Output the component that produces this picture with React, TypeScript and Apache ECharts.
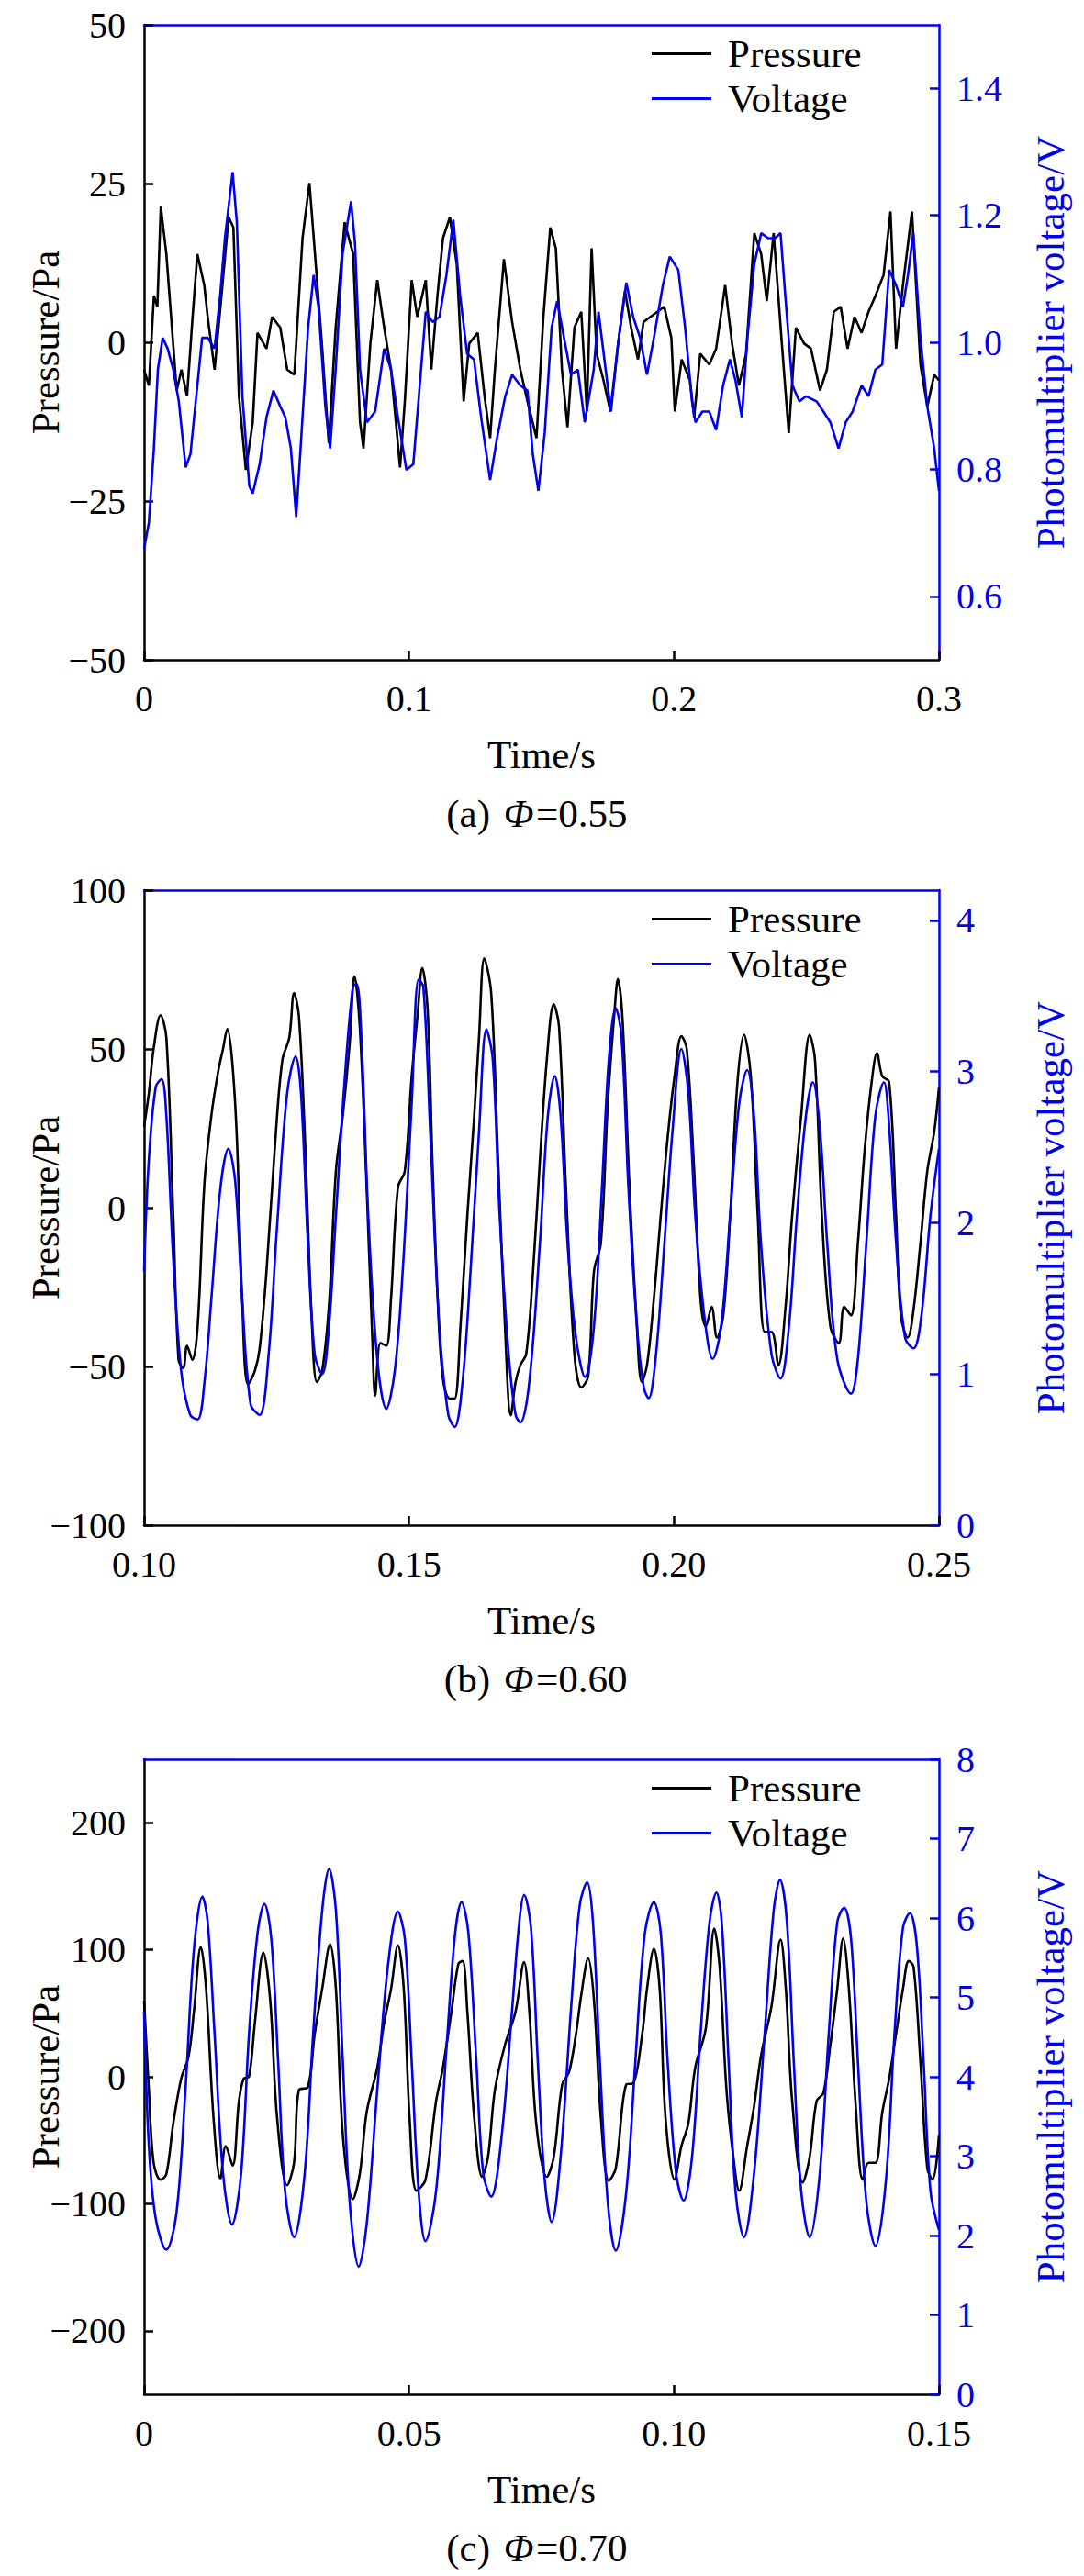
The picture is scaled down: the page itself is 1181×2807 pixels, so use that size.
import { useEffect, useRef } from "react";
import * as echarts from "echarts";

const FONT = '"Liberation Serif", "Times New Roman", serif';
const BLUE = "#0000f0";

// (a) Φ=0.55  [time s, value]
const pressureA: [number, number][] = [
  [0, -4.3], [0.0018, -6.8], [0.0037, 7.3], [0.005, 5.6], [0.0063, 21.4], [0.0084, 13.9],
  [0.0102, 4.0], [0.0123, -7.6], [0.0141, -4.3], [0.0162, -8.5], [0.0183, 4.0], [0.0201, 13.9],
  [0.0227, 9.0], [0.024, 4.0], [0.0266, -4.3], [0.0292, 7.3], [0.0319, 19.7], [0.0337, 18.1],
  [0.0358, -8.5], [0.0384, -20.1], [0.041, -12.6], [0.0428, 1.5], [0.0462, -1.0], [0.0483, 4.0],
  [0.0514, 2.3], [0.054, -4.3], [0.0567, -5.1], [0.0598, 16.4], [0.0624, 25.1], [0.0645, 13.9],
  [0.0671, -0.2], [0.0697, -15.9], [0.0723, 2.3], [0.0757, 18.9], [0.0789, 13.9], [0.0815, -12.6],
  [0.0828, -16.7], [0.0854, -0.2], [0.088, 9.8], [0.0906, 2.3], [0.0932, -4.3], [0.0966, -19.7],
  [0.0984, -9.3], [0.101, 9.8], [0.1031, 4.0], [0.1063, 9.8], [0.1084, -4.3], [0.1107, 7.3],
  [0.1128, 16.4], [0.1154, 19.7], [0.118, 12.3], [0.1206, -9.3], [0.1227, -0.2], [0.1259, 1.5],
  [0.1285, -8.5], [0.1306, -15.1], [0.1324, -4.3], [0.1358, 13.1], [0.1389, 3.2], [0.142, -4.3],
  [0.1447, -9.3], [0.1481, -15.1], [0.1507, 4.0], [0.1533, 18.1], [0.1554, 14.8], [0.1577, -4.3],
  [0.1598, -13.4], [0.1624, 2.3], [0.165, 4.8], [0.1671, -10.9], [0.1689, 14.8], [0.1708, -1.8],
  [0.1734, -6.0], [0.176, -10.9], [0.1789, -0.2], [0.1815, 8.1], [0.1838, 2.3], [0.1864, -2.7],
  [0.1885, 3.2], [0.1911, 4.0], [0.1937, 4.8], [0.1963, 5.6], [0.199, 0.7], [0.2003, -10.9],
  [0.2029, -2.7], [0.206, -6.0], [0.2076, -11.8], [0.2099, -1.8], [0.2133, -3.5], [0.2159, -1.0],
  [0.2193, 9.0], [0.2219, -0.2], [0.2245, -6.8], [0.2272, -1.8], [0.2303, 17.2], [0.2329, 13.9],
  [0.235, 6.5], [0.2376, 17.2], [0.2407, -0.2], [0.2433, -14.3], [0.246, 2.3], [0.2491, -0.2],
  [0.2517, -1.0], [0.2551, -7.6], [0.2577, -4.3], [0.2603, 4.8], [0.2629, 5.6], [0.2655, -1.0],
  [0.2681, 4.0], [0.2708, 1.5], [0.2734, 4.8], [0.276, 7.3], [0.2791, 10.6], [0.2817, 20.6],
  [0.2838, -1.0], [0.2864, 9.0], [0.2898, 20.6], [0.293, -3.5], [0.2956, -10.1], [0.2982, -5.1],
  [0.3, -6.0],
];
const voltageA: [number, number][] = [
  [0, 0.675], [0.0018, 0.716], [0.0037, 0.833], [0.0052, 0.957], [0.007, 1.007], [0.0089, 0.99],
  [0.011, 0.957], [0.0131, 0.907], [0.0157, 0.803], [0.0175, 0.824], [0.0193, 0.899], [0.0219, 1.007],
  [0.024, 1.007], [0.0266, 0.99], [0.0287, 1.073], [0.0305, 1.164], [0.0334, 1.268], [0.035, 1.189],
  [0.0371, 0.915], [0.0397, 0.774], [0.041, 0.762], [0.0436, 0.808], [0.0462, 0.882], [0.0488, 0.924],
  [0.0514, 0.899], [0.0533, 0.882], [0.0554, 0.833], [0.0574, 0.725], [0.0593, 0.849], [0.0619, 1.023],
  [0.064, 1.106], [0.0658, 1.056], [0.0684, 0.899], [0.0702, 0.833], [0.0723, 0.957], [0.0749, 1.139],
  [0.0781, 1.222], [0.0796, 1.156], [0.0815, 0.957], [0.0841, 0.874], [0.0872, 0.891], [0.0906, 0.99],
  [0.0932, 0.957], [0.0958, 0.882], [0.099, 0.799], [0.1016, 0.808], [0.1037, 0.915], [0.1063, 1.048],
  [0.1089, 1.032], [0.1115, 1.04], [0.1141, 1.106], [0.1167, 1.193], [0.1193, 1.073], [0.1219, 0.982],
  [0.1245, 0.973], [0.1272, 0.882], [0.1306, 0.783], [0.1332, 0.849], [0.1363, 0.915], [0.1389, 0.949],
  [0.142, 0.932], [0.1447, 0.924], [0.1467, 0.824], [0.1488, 0.766], [0.1512, 0.857], [0.1538, 1.023],
  [0.1559, 1.065], [0.1585, 1.007], [0.1611, 0.949], [0.1637, 0.957], [0.1663, 0.874], [0.1697, 0.957],
  [0.1715, 1.048], [0.1742, 0.957], [0.1762, 0.891], [0.1789, 0.998], [0.182, 1.094], [0.1846, 1.04],
  [0.1872, 1.007], [0.1898, 0.949], [0.1924, 1.007], [0.1958, 1.09], [0.1984, 1.135], [0.2016, 1.114],
  [0.2042, 1.023], [0.2068, 0.907], [0.2081, 0.874], [0.2107, 0.891], [0.2133, 0.891], [0.2159, 0.862],
  [0.2185, 0.932], [0.2211, 0.973], [0.2232, 0.94], [0.2256, 0.882], [0.2277, 1.007], [0.2303, 1.123],
  [0.2329, 1.172], [0.2355, 1.164], [0.2381, 1.164], [0.2402, 1.172], [0.242, 1.073], [0.2447, 0.932],
  [0.2473, 0.907], [0.2499, 0.915], [0.2538, 0.907], [0.2564, 0.891], [0.259, 0.874], [0.2621, 0.833],
  [0.2648, 0.874], [0.2674, 0.891], [0.2708, 0.932], [0.2734, 0.915], [0.276, 0.957], [0.2786, 0.965],
  [0.2812, 1.114], [0.2838, 1.09], [0.2864, 1.056], [0.2883, 1.106], [0.2903, 1.172], [0.293, 1.007],
  [0.2956, 0.899], [0.2982, 0.833], [0.3, 0.766],
];

// (b) Φ=0.60
const pressureB: [number, number][] = [
  [0.1, 25.6], [0.1009, 36.1], [0.1018, 50.1], [0.1031, 60.6], [0.1042, 53.6], [0.1055, -2.4],
  [0.1065, -47.9], [0.1074, -50.5], [0.1081, -43.5], [0.1091, -47.9], [0.1101, -37.4], [0.1114, 8.1],
  [0.1127, 29.1], [0.114, 43.1], [0.1149, 50.1], [0.1157, 56.3], [0.1166, 46.6], [0.1175, 22.1],
  [0.1185, -28.6], [0.1196, -55.7], [0.1209, -51.4], [0.1218, -44.4], [0.1231, -19.9], [0.1248, 22.1],
  [0.1261, 46.6], [0.1274, 53.6], [0.1283, 67.6], [0.1292, 60.6], [0.1303, 23.9], [0.1316, -33.9],
  [0.1326, -54.9], [0.1336, -51.4], [0.1349, -30.4], [0.1362, 11.6], [0.1375, 29.1], [0.1388, 51.9],
  [0.1397, 72.9], [0.1407, 57.1], [0.142, 6.4], [0.1431, -42.6], [0.1436, -59.2], [0.1446, -42.6],
  [0.1457, -43.5], [0.1466, -28.6], [0.1479, 6.4], [0.1492, 11.6], [0.1505, 41.4], [0.1516, 60.6],
  [0.1525, 75.5], [0.1535, 62.4], [0.1544, 15.1], [0.1554, -28.6], [0.1564, -54.0], [0.1577, -60.1],
  [0.1586, -60.1], [0.1597, -37.4], [0.161, -2.4], [0.1623, 29.1], [0.1632, 53.6], [0.1642, 78.5],
  [0.1655, 67.6], [0.1668, 15.1], [0.1681, -37.4], [0.1692, -65.4], [0.1701, -54.9], [0.171, -49.6],
  [0.1721, -46.1], [0.1734, -19.9], [0.1747, 15.1], [0.176, 46.6], [0.1773, 64.1], [0.1783, 57.1],
  [0.1796, 6.4], [0.1812, -46.1], [0.1825, -56.6], [0.1838, -53.1], [0.1849, -19.9], [0.1862, -11.1],
  [0.1875, 32.6], [0.1888, 62.4], [0.1894, 72.0], [0.1903, 58.9], [0.1916, 6.4], [0.193, -37.4],
  [0.1939, -54.9], [0.1949, -49.6], [0.1962, -28.6], [0.1975, -2.4], [0.1988, 22.1], [0.2001, 41.4],
  [0.2014, 54.0], [0.2024, 50.1], [0.2037, 15.1], [0.205, -28.6], [0.206, -37.4], [0.2071, -31.2],
  [0.2081, -40.9], [0.2093, -33.9], [0.2106, -2.4], [0.2119, 37.9], [0.2132, 54.5], [0.2145, 41.4],
  [0.2158, -2.4], [0.2171, -39.1], [0.2184, -39.1], [0.2197, -49.6], [0.221, -32.1], [0.2223, -2.4],
  [0.224, 29.1], [0.2256, 54.5], [0.2266, 46.6], [0.2279, -2.4], [0.2295, -37.4], [0.2311, -42.6],
  [0.2321, -31.2], [0.2334, -33.9], [0.2347, -11.1], [0.236, 18.6], [0.2373, 39.6], [0.2383, 48.7],
  [0.2393, 41.4], [0.2406, 39.6], [0.2419, -2.4], [0.2428, -33.9], [0.2441, -40.9], [0.2452, -32.1],
  [0.2465, -11.1], [0.2478, 11.6], [0.2491, 23.9], [0.25, 37.9],
];
const voltageB: [number, number][] = [
  [0.1, 1.68], [0.1009, 2.42], [0.1022, 2.9], [0.1033, 2.95], [0.1042, 2.71], [0.1055, 1.76],
  [0.107, 1.02], [0.1087, 0.73], [0.1101, 0.7], [0.1114, 0.95], [0.1127, 1.5], [0.1144, 2.23],
  [0.1159, 2.49], [0.1172, 2.27], [0.1185, 1.5], [0.1201, 0.8], [0.1218, 0.73], [0.1235, 1.13],
  [0.1251, 1.98], [0.127, 2.86], [0.1286, 3.1], [0.1296, 2.86], [0.1309, 1.87], [0.1322, 1.13],
  [0.1336, 1.0], [0.1349, 1.32], [0.1362, 2.05], [0.1379, 2.97], [0.1394, 3.56], [0.1401, 3.58],
  [0.141, 3.23], [0.1423, 2.05], [0.144, 1.1], [0.1457, 0.77], [0.1473, 1.02], [0.1488, 1.68],
  [0.1505, 2.79], [0.1518, 3.61], [0.1527, 3.56], [0.154, 2.6], [0.1557, 1.32], [0.1574, 0.73],
  [0.1586, 0.65], [0.1601, 0.95], [0.1616, 1.68], [0.1632, 2.6], [0.1646, 3.28], [0.1658, 3.08],
  [0.1671, 2.05], [0.1688, 1.13], [0.1701, 0.73], [0.171, 0.68], [0.1727, 0.95], [0.1747, 1.87],
  [0.1762, 2.71], [0.1775, 2.97], [0.1786, 2.71], [0.1799, 1.87], [0.1815, 1.24], [0.1832, 0.98],
  [0.1849, 1.32], [0.1864, 2.23], [0.1877, 3.08], [0.189, 3.42], [0.1901, 3.23], [0.1914, 2.23],
  [0.193, 1.32], [0.1943, 0.91], [0.1952, 0.84], [0.1966, 1.13], [0.1982, 1.87], [0.1997, 2.6],
  [0.2014, 3.15], [0.2027, 2.86], [0.204, 2.05], [0.2057, 1.39], [0.2073, 1.1], [0.2089, 1.32],
  [0.2106, 2.05], [0.2123, 2.79], [0.2138, 3.01], [0.2151, 2.71], [0.2164, 1.87], [0.2184, 1.13],
  [0.2201, 0.97], [0.2217, 1.32], [0.2232, 2.05], [0.2249, 2.71], [0.2262, 2.93], [0.2275, 2.64],
  [0.2289, 1.87], [0.2308, 1.1], [0.2334, 0.87], [0.2347, 1.1], [0.2363, 1.87], [0.238, 2.71],
  [0.2396, 2.93], [0.2406, 2.64], [0.2419, 1.87], [0.2436, 1.24], [0.2452, 1.17], [0.2467, 1.39],
  [0.2484, 2.05], [0.25, 2.49],
];

// (c) Φ=0.70
const pressureC: [number, number][] = [
  [0, 60], [0.0009, -10.4], [0.0018, -67.7], [0.0031, -81.0], [0.0042, -76.6], [0.0055, -36.9],
  [0.007, -1.5], [0.0084, 16.1], [0.0094, 51.4], [0.0107, 102.2], [0.0117, 69.1], [0.0131, -32.4],
  [0.0144, -80.1], [0.0154, -54.5], [0.0167, -69.9], [0.0179, -19.2], [0.0188, -1.5], [0.0198, 0.2],
  [0.0209, 42.6], [0.0225, 97.7], [0.0238, 60.2], [0.0251, -32.4], [0.027, -85.4], [0.0283, -67.7],
  [0.0292, -10.4], [0.0309, -8.2], [0.0322, 33.8], [0.0336, 69.1], [0.0351, 104.4], [0.0362, 69.1],
  [0.0375, -45.7], [0.0394, -96.4], [0.0407, -76.6], [0.042, -28.0], [0.044, 7.3], [0.0453, 42.6],
  [0.0466, 69.1], [0.0479, 103.5], [0.049, 69.1], [0.0501, -32.4], [0.0514, -89.8], [0.0531, -81.0],
  [0.0551, -19.2], [0.0564, 7.3], [0.058, 51.4], [0.0593, 88.9], [0.0601, 91.1], [0.061, 51.4],
  [0.0623, -32.4], [0.0638, -78.8], [0.0649, -63.3], [0.0662, -10.4], [0.0681, 25.1], [0.0701, 51.4],
  [0.0717, 90.2], [0.0727, 51.4], [0.074, -36.9], [0.076, -78.8], [0.0773, -63.3], [0.0789, -6.0],
  [0.0802, 3.8], [0.0815, 33.8], [0.0825, 64.7], [0.0838, 93.3], [0.0849, 60.2], [0.0862, -32.4],
  [0.0877, -81.9], [0.089, -72.2], [0.091, -6.0], [0.0923, -5.1], [0.094, 33.8], [0.0949, 69.1],
  [0.0962, 100.8], [0.0973, 69.1], [0.0984, -32.4], [0.1001, -81.0], [0.1014, -54.5], [0.1027, -36.9],
  [0.104, 7.3], [0.106, 38.2], [0.1076, 116.7], [0.1086, 86.7], [0.1099, -10.4], [0.1112, -63.3],
  [0.1123, -89.8], [0.1138, -54.5], [0.1151, -23.6], [0.1164, 16.1], [0.1184, 55.8], [0.1201, 107.9],
  [0.1211, 69.1], [0.1223, -19.2], [0.1243, -83.2], [0.1256, -63.3], [0.1269, -19.2], [0.1282, -12.6],
  [0.1295, 25.1], [0.1308, 69.1], [0.1319, 108.8], [0.133, 69.1], [0.1343, -23.6], [0.1356, -81.0],
  [0.1367, -67.7], [0.138, -67.7], [0.1393, -28.0], [0.1406, -1.5], [0.1419, 33.8], [0.1432, 69.1],
  [0.1443, 91.1], [0.1452, 86.7], [0.1465, 11.7], [0.1478, -72.2], [0.1488, -81.0], [0.15, -45.7],
];
const voltageC: [number, number][] = [
  [0, 4.82], [0.0009, 3.13], [0.0022, 2.21], [0.0042, 1.82], [0.0061, 2.28], [0.0078, 3.83],
  [0.0094, 5.6], [0.011, 6.27], [0.012, 5.95], [0.0133, 4.54], [0.0149, 2.78], [0.0166, 2.14],
  [0.0183, 2.78], [0.0198, 4.54], [0.0214, 5.81], [0.0227, 6.18], [0.024, 5.74], [0.0253, 4.19],
  [0.0266, 2.56], [0.0283, 1.98], [0.0303, 2.78], [0.0319, 4.54], [0.0336, 6.09], [0.0349, 6.62],
  [0.0362, 6.09], [0.0375, 4.19], [0.0388, 2.42], [0.0405, 1.61], [0.042, 2.14], [0.044, 3.83],
  [0.046, 5.39], [0.0479, 6.08], [0.0492, 5.74], [0.0505, 4.19], [0.0518, 2.56], [0.0531, 1.93],
  [0.0551, 2.56], [0.0571, 4.4], [0.0587, 5.81], [0.0599, 6.2], [0.0612, 5.81], [0.0627, 4.19],
  [0.064, 2.78], [0.0655, 2.49], [0.0675, 3.27], [0.0695, 4.89], [0.0708, 5.95], [0.0717, 6.29],
  [0.073, 5.88], [0.0743, 4.19], [0.0756, 2.7], [0.0769, 2.17], [0.0786, 2.99], [0.0806, 4.89],
  [0.0822, 6.16], [0.0836, 6.45], [0.0847, 5.95], [0.086, 4.19], [0.0875, 2.42], [0.089, 1.81],
  [0.091, 2.56], [0.0927, 4.19], [0.0945, 5.81], [0.0962, 6.2], [0.0975, 5.81], [0.0988, 4.19],
  [0.1004, 2.78], [0.1018, 2.44], [0.1034, 2.99], [0.105, 4.54], [0.1067, 5.95], [0.108, 6.32],
  [0.109, 5.95], [0.1103, 4.19], [0.1116, 2.56], [0.1132, 1.98], [0.1151, 2.78], [0.1171, 4.54],
  [0.1188, 6.09], [0.12, 6.48], [0.1213, 5.95], [0.1226, 4.19], [0.124, 2.56], [0.1256, 1.98],
  [0.1275, 2.78], [0.1292, 4.54], [0.1308, 5.95], [0.1321, 6.13], [0.1334, 5.74], [0.1347, 4.19],
  [0.1363, 2.42], [0.138, 1.87], [0.14, 2.7], [0.1416, 4.54], [0.1432, 5.88], [0.1445, 6.06],
  [0.1458, 5.67], [0.1471, 4.19], [0.1484, 2.56], [0.15, 2.07],
];

// axis ranges and tick labels
const timeTicksA = [0, 0.1, 0.2, 0.3];
const pressureTicksA = [-50, -25, 0, 25, 50];
const voltageTicksA = [0.6, 0.8, 1.0, 1.2, 1.4];
const timeTicksB = [0.1, 0.15, 0.2, 0.25];
const pressureTicksB = [-100, -50, 0, 50, 100];
const voltageTicksB = [0, 1, 2, 3, 4];
const timeTicksC = [0, 0.05, 0.1, 0.15];
const pressureTicksC = [-200, -100, 0, 100, 200];
const voltageTicksC = [0, 1, 2, 3, 4, 5, 6, 7, 8];
const captions = ["(a)", "(b)", "(c)"];
const phiValues = ["0.55", "0.60", "0.70"];

const GRID_LEFT = 157;
const GRID_W = 866;
const GRID_H = 692;

const fmtSigned = (v: number, d: number) =>
  (v < 0 ? "\u2212" : "") + Math.abs(v).toFixed(d);

const panels = [
  {
    top: 27, pressure: pressureA, voltage: voltageA, smooth: false,
    x: [0, 0.3], xt: timeTicksA, xd: 1,
    p: [-50, 50], pt: pressureTicksA,
    v: [0.5, 1.5], vt: voltageTicksA, vd: 1,
  },
  {
    top: 970, pressure: pressureB, voltage: voltageB, smooth: true,
    x: [0.1, 0.25], xt: timeTicksB, xd: 2,
    p: [-100, 100], pt: pressureTicksB,
    v: [0, 4.2], vt: voltageTicksB, vd: 0,
  },
  {
    top: 1917, pressure: pressureC, voltage: voltageC, smooth: true,
    x: [0, 0.15], xt: timeTicksC, xd: 2,
    p: [-250, 250], pt: pressureTicksC,
    v: [0, 8], vt: voltageTicksC, vd: 0,
  },
];

export default function App() {
  const chartRef = useRef<HTMLDivElement>(null);

  useEffect(() => {
    if (!chartRef.current) return;
    document.body.style.margin = "0";
    const chart = echarts.init(chartRef.current, undefined, { renderer: "svg" });

    const axisFont = { fontFamily: FONT, fontSize: 40, lineHeight: 30 };
    const nameFont = { fontFamily: FONT, fontSize: 43 };

    const xAxis: any[] = [];
    const yAxis: any[] = [];
    const series: any[] = [];
    const graphic: any[] = [];

    panels.forEach((p, i) => {
      xAxis.push({
        type: "value",
        gridIndex: i,
        position: "bottom",
        min: p.x[0],
        max: p.x[1],
        name: "Time/s",
        nameLocation: "middle",
        nameGap: 82,
        nameMoveOverlap: false,
        nameTextStyle: { ...nameFont, color: "#000" },
        axisLine: { onZero: false, lineStyle: { color: "#000", width: 2.5 } },
        axisTick: { inside: true, length: 10, customValues: p.xt, lineStyle: { color: "#000", width: 2.5 } },
        axisLabel: {
          customValues: p.xt,
          margin: 27,
          ...axisFont,
          color: "#000",
          formatter: (v: number) => (v === 0 ? "0" : v.toFixed(p.xd)),
        },
        splitLine: { show: false },
      });
      xAxis.push({
        type: "value",
        gridIndex: i,
        position: "top",
        min: p.x[0],
        max: p.x[1],
        axisLine: { onZero: false, lineStyle: { color: BLUE, width: 2.5 } },
        axisTick: { show: false },
        axisLabel: { show: false },
        splitLine: { show: false },
      });
      yAxis.push({
        type: "value",
        gridIndex: i,
        position: "left",
        min: p.p[0],
        max: p.p[1],
        name: "Pressure/Pa",
        nameLocation: "middle",
        nameRotate: 90,
        nameGap: 86,
        nameMoveOverlap: false,
        nameTextStyle: { ...nameFont, color: "#000" },
        axisLine: { onZero: false, lineStyle: { color: "#000", width: 2.5 } },
        axisTick: { inside: true, length: 10, customValues: p.pt, lineStyle: { color: "#000", width: 2.5 } },
        axisLabel: {
          customValues: p.pt,
          margin: 20,
          ...axisFont,
          color: "#000",
          formatter: (v: number) => fmtSigned(v, 0),
        },
        splitLine: { show: false },
      });
      yAxis.push({
        type: "value",
        gridIndex: i,
        position: "right",
        min: p.v[0],
        max: p.v[1],
        name: "Photomultiplier voltage/V",
        nameLocation: "middle",
        nameRotate: 90,
        nameGap: 100,
        nameMoveOverlap: false,
        nameTextStyle: { ...nameFont, color: BLUE },
        axisLine: { onZero: false, lineStyle: { color: BLUE, width: 2.5 } },
        axisTick: { inside: true, length: 10, customValues: p.vt, lineStyle: { color: BLUE, width: 2.5 } },
        axisLabel: {
          customValues: p.vt,
          margin: 19,
          padding: [0, 0, 5, 0],
          ...axisFont,
          color: BLUE,
          formatter: (v: number) => v.toFixed(p.vd),
        },
        splitLine: { show: false },
      });
      series.push({
        name: "Pressure",
        type: "line",
        xAxisIndex: 2 * i,
        yAxisIndex: 2 * i,
        data: p.pressure,
        showSymbol: false,
        symbol: "none",
        smooth: p.smooth ? 0.35 : false,
        color: "#000",
        lineStyle: { color: "#000", width: 2.6 },
      });
      series.push({
        name: "Voltage",
        type: "line",
        xAxisIndex: 2 * i,
        yAxisIndex: 2 * i + 1,
        data: p.voltage,
        showSymbol: false,
        symbol: "none",
        smooth: p.smooth ? 0.35 : false,
        color: BLUE,
        lineStyle: { color: BLUE, width: 2.6 },
      });

      // caption "(a) Φ=0.55" with italic Φ, as three pieces
      const cy = p.top + GRID_H + 167;
      const base = { fontFamily: FONT, fontSize: 43, fill: "#000", verticalAlign: "middle" };
      graphic.push(
        { type: "text", x: 534, y: cy, style: { ...base, text: captions[i], align: "right" } },
        { type: "text", x: 565, y: cy, style: { ...base, text: "\u03A6", fontStyle: "italic", align: "center" } },
        { type: "text", x: 584, y: cy, style: { ...base, text: "=" + phiValues[i], align: "left" } },
      );
    });

    const option: any = {
      animation: false,
      backgroundColor: "#fff",
      grid: panels.map((p) => ({
        left: GRID_LEFT,
        top: p.top,
        width: GRID_W,
        height: GRID_H,
        outerBoundsMode: "none",
      })),
      legend: panels.map((p) => ({
        orient: "vertical",
        left: 705,
        top: p.top + 5,
        itemWidth: 65,
        itemHeight: 3,
        itemGap: 6,
        icon: "rect",
        selectedMode: false,
        data: ["Pressure", "Voltage"],
        textStyle: { ...nameFont, color: "#000", lineHeight: 43, padding: [0, 0, 0, 13] },
      })),
      xAxis,
      yAxis,
      series,
      graphic,
    };

    chart.setOption(option);

    return () => {
      chart.dispose();
    };
  }, []);

  return <div ref={chartRef} style={{ width: 1181, height: 2807 }} />;
}
